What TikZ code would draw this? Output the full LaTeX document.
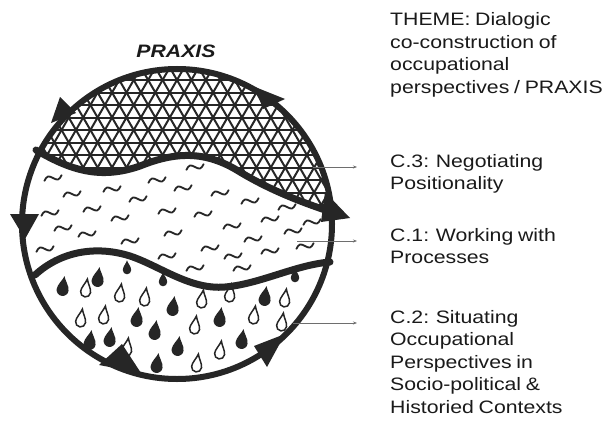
\documentclass[tikz,border=0pt]{standalone}
\usepackage{fontspec}
\setmainfont{Liberation Sans}
\newfontfamily\labfont[FakeStretch=1.18,WordSpace=0.8]{Liberation Sans}
\usetikzlibrary{arrows.meta}
\definecolor{ink}{HTML}{262626}
\definecolor{leadc}{HTML}{6E6E6E}
\definecolor{txt}{HTML}{1A1A1A}
\tikzset{
  tldline/.style={draw=ink, line width=1.8pt, line cap=round},
  hatchline/.style={draw=ink, line width=2pt},
  bound/.style={draw=ink, line width=7pt, line cap=round},
  rim/.style={draw=ink, line width=6pt},
  barb/.style={fill=ink},
  leader/.style={draw=leadc, line width=0.9pt, -{Stealth[length=4pt,width=3pt]}},
  lab/.style={font=\labfont\fontsize{18}{22.5}\selectfont, align=left, inner sep=0pt, text=txt, anchor=north west},
  tld/.pic={\draw[tldline] (-9,-1) sin (-4.5,2.5) cos (0,0) sin (4.5,-2.5) cos (9,1);},
  dropf/.pic={\fill[ink] (0,11) .. controls (1,7) and (6,2) .. (6,-3) arc[start angle=0,end angle=-180,radius=6] .. controls (-6,2) and (-1,7) .. (0,11) -- cycle;},
  dropo/.pic={\draw[ink, line width=1.5pt, fill=white] (0,10) .. controls (1,6) and (5,1) .. (5,-3) arc[start angle=0,end angle=-180,radius=5] .. controls (-5,1) and (-1,6) .. (0,10) -- cycle;},
}
\begin{document}
\begin{tikzpicture}[x=1pt,y=1pt]
\useasboundingbox (0,0) rectangle (610,-428);
\fill[white] (0,0) rectangle (610,-428);

% cross-hatched top region
\begin{scope}
  \clip (177,-224) circle[radius=155];
  \clip (0,-148) -- (38,-150) .. controls (70,-170) and (100,-180) .. (140,-166)
        .. controls (175,-152) and (205,-150) .. (240,-172)
        .. controls (275,-193) and (310,-205) .. (340,-214) -- (360,-214) -- (360,0) -- (0,0) -- cycle;
  \foreach \a in {0,60,120}{
    \foreach \k in {-14,...,14}{
      \draw[hatchline, shift={(177,-130)}, rotate=\a] (-230,\k*12.5) -- (230,\k*12.5);
    }
  }
\end{scope}

% tildes in the middle band
\foreach \x/\y in {53/178,72/194,112/189,157/180,195/167,50/213,92/209,138/199,183/188,220/193,
  250/201,63/228,120/218,167/211,203/214,232/226,270/219,287/207,45/249,87/234,130/241,173/233,
  210/248,253/239,293/231,167/256,233/256,270/251,305/246,195/268,242/268,312/222}{
  \pic[rotate=12] at (\x,-\y) {tld};
}

% drops in the lower band
\foreach \x/\y in {63/287,98/278,173/307,137/318,155/331,220/318,242/340,265/297,178/347,110/338,90/341,157/364}{
  \pic[rotate=-8] at (\x,-\y) {dropf};
}
\foreach \x/\y in {127/268,163/280,295/276}{
  \pic[scale=0.7] at (\x,-\y) {dropf};
}
\foreach \x/\y in {86/289,120/294,145/298,81/319,104/316,127/348,195/326,202/300,230/294,254/316,
  285/299,220/351,197/364,282/323}{
  \pic[rotate=-8] at (\x,-\y) {dropo};
}

% band boundaries
\draw[bound] (36,-150) .. controls (70,-170) and (100,-180) .. (140,-166)
        .. controls (175,-152) and (205,-150) .. (240,-172)
        .. controls (275,-193) and (310,-205) .. (334,-213);
\draw[bound] (35,-275) .. controls (60,-252) and (95,-245) .. (130,-256)
        .. controls (160,-266) and (190,-290) .. (225,-287)
        .. controls (260,-284) and (295,-265) .. (330,-262);

% rim
\draw[rim] (177,-224) circle[radius=155];

% arrowheads on the rim
\fill[barb] (60,-97) -- (51,-123) -- (76,-113) -- cycle;
\fill[barb] (255,-87) -- (285,-99) -- (263,-109) -- cycle;
\fill[barb] (325,-192) -- (350,-218) -- (321,-222) -- cycle;
\fill[barb] (10,-214) -- (39,-214) -- (25,-239) -- cycle;
\fill[barb] (99,-365) -- (122,-344) -- (141,-373) -- cycle;
\fill[barb] (254,-346) -- (285,-334) -- (267,-367) -- cycle;

% title
\node[font=\labfont\bfseries\itshape\fontsize{18}{22}\selectfont, text=txt, inner sep=0pt, anchor=base] (praxis) at (176,-58) {PRAXIS};

% labels
\node[lab] (theme) at (390,-12.7) {THEME: Dialogic\\co-construction of\\occupational\\perspectives / PRAXIS};
\node[lab] (c3) at (390,-154) {C.3: Negotiating\\Positionality};
\node[lab] (c1) at (390,-228) {C.1: Working with\\Processes};
\node[lab] (c2) at (390,-310) {C.2: Situating\\Occupational\\Perspectives in\\Socio-political \&\\Historied Contexts};

% leaders
\coordinate (s3) at (313,-167); \coordinate (e3) at (357,-167);
\coordinate (s1) at (297,-241); \coordinate (e1) at (357,-241);
\coordinate (s2) at (293,-323); \coordinate (e2) at (357,-323);
\draw[leader] (s3) -- (e3);
\draw[leader] (s1) -- (e1);
\draw[leader] (s2) -- (e2);
\end{tikzpicture}
\end{document}
